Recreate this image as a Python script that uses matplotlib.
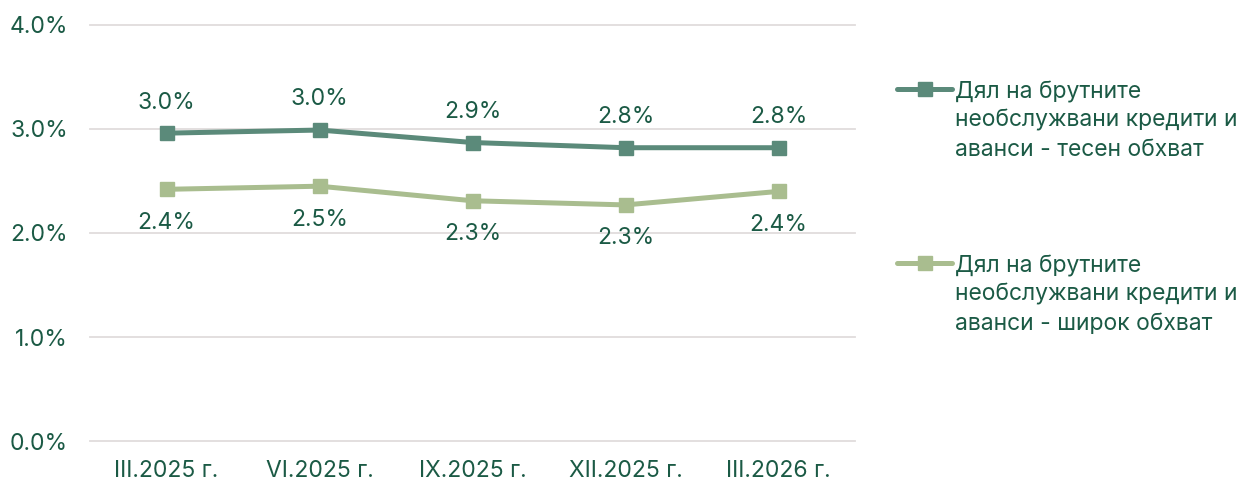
import matplotlib.pyplot as plt
from matplotlib.lines import Line2D
import numpy as np

plt.rcParams['font.family'] = ['Inter', 'DejaVu Sans']

categories = ["III.2025 г.", "VI.2025 г.", "IX.2025 г.", "XII.2025 г.", "III.2026 г."]
narrow = [2.96, 2.99, 2.87, 2.82, 2.82]
narrow_labels = ["3.0%", "3.0%", "2.9%", "2.8%", "2.8%"]
broad = [2.42, 2.45, 2.31, 2.27, 2.40]
broad_labels = ["2.4%", "2.5%", "2.3%", "2.3%", "2.4%"]
legend_labels = ["Дял на брутните\nнеобслужвани кредити и\nаванси - тесен обхват",
                 "Дял на брутните\nнеобслужвани кредити и\nаванси - широк обхват"]

dark = "#5b8a7a"
light = "#a9bd8f"
txt = "#1b5a45"
grid = "#e0dcdc"
fs = 16.5

fig = plt.figure(figsize=(12.43, 4.82), dpi=100)
ax = fig.add_axes([90 / 1243, 1 - 441 / 482, 765 / 1243, 416 / 482])

x = np.arange(len(categories))
ax.plot(x, narrow, color=dark, lw=3.6, marker="s", ms=9.5, zorder=3)
ax.plot(x, broad, color=light, lw=3.6, marker="s", ms=9.5, zorder=3)

for xi, v, s in zip(x, narrow, narrow_labels):
    ax.annotate(s, (xi, v), xytext=(0, 22), textcoords="offset points",
                ha="center", va="center", fontsize=fs, color=txt)
for xi, v, s in zip(x, broad, broad_labels):
    ax.annotate(s, (xi, v), xytext=(0, -24), textcoords="offset points",
                ha="center", va="center", fontsize=fs, color=txt)

ax.set_xlim(-0.5, len(categories) - 0.5)
ax.set_ylim(0, 4)
ax.set_yticks([0, 1, 2, 3, 4])
ax.set_yticklabels([f"{t:.1f}%" for t in [0, 1, 2, 3, 4]])
ax.set_xticks(x)
ax.set_xticklabels(categories)
ax.tick_params(axis="both", length=0, labelsize=fs, labelcolor=txt)
ax.tick_params(axis="y", pad=16)
ax.tick_params(axis="x", pad=14)
for yv in [0, 1, 2, 3, 4]:
    ax.axhline(yv, color=grid, lw=1.3, zorder=1, clip_on=False)
for sp in ax.spines.values():
    sp.set_visible(False)

# legend drawn by hand so the handle sits on the first text line
for (col, lab, ytop) in [(dark, legend_labels[0], 89), (light, legend_labels[1], 263)]:
    yf = 1 - ytop / 482
    fig.add_artist(Line2D([897 / 1243, 952 / 1243], [yf, yf], color=col, lw=3.6,
                          solid_capstyle="round", transform=fig.transFigure))
    fig.add_artist(Line2D([924.5 / 1243], [yf], color=col, marker="s", ms=9.5,
                          transform=fig.transFigure))
    fig.text(955 / 1243, yf + 8 / 482, lab, ha="left", va="top", fontsize=fs,
             color=txt, linespacing=1.4)

plt.savefig("out.png", dpi=100)
plt.close()
